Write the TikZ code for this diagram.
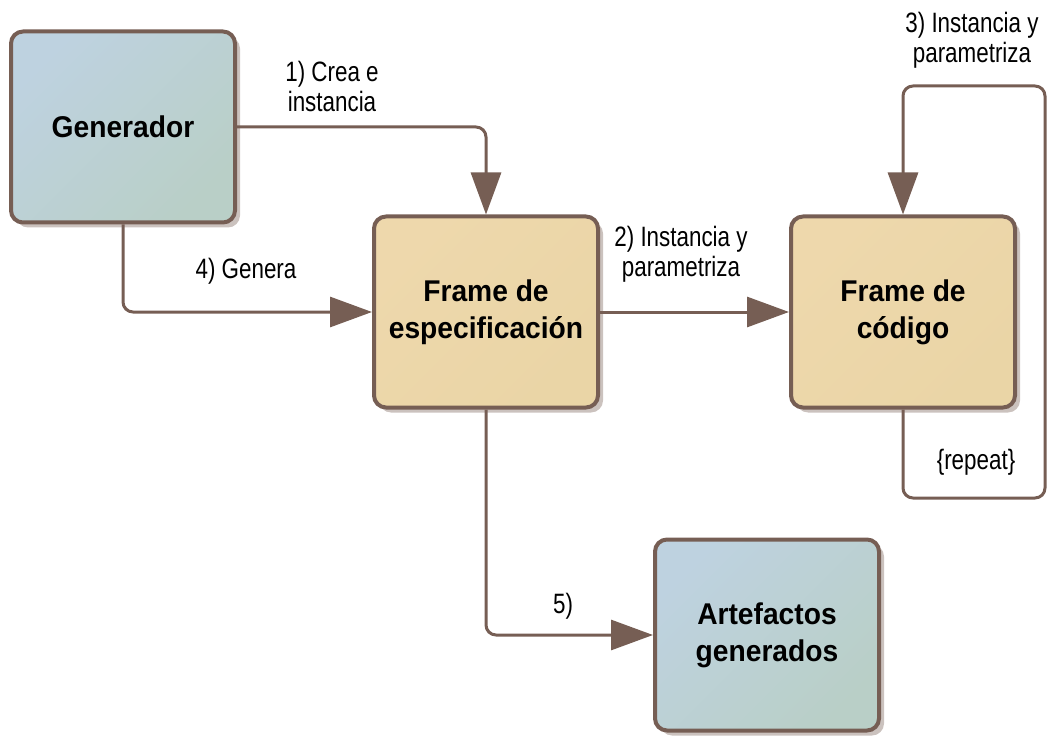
\documentclass[tikz,border=0pt]{standalone}
\usepackage{fontspec}
\setmainfont{Liberation Sans}
\newfontfamily\lblfont[FakeStretch=0.8]{Liberation Sans}
\newfontfamily\boxfont[FakeStretch=0.94]{Liberation Sans Bold}
\usetikzlibrary{arrows.meta,shadows}
\definecolor{brn}{HTML}{765E54}
\definecolor{blueTL}{HTML}{BED2E0}
\definecolor{blueBR}{HTML}{B9CFC7}
\definecolor{yelTL}{HTML}{EED8AC}
\definecolor{yelBR}{HTML}{EAD5A6}
\definecolor{shad}{HTML}{CBC2BE}
\tikzset{
  boxbase/.style={draw=brn, line width=4pt, rounded corners=12pt,
    minimum width=224pt, minimum height=191pt, align=center,
    font=\boxfont\fontsize{30}{37}\selectfont,
    drop shadow={shadow xshift=5pt, shadow yshift=-5pt, fill=shad, opacity=1}},
  bluebox/.style={boxbase, top color=blueTL, bottom color=blueBR, shading angle=45},
  yelbox/.style={boxbase, top color=yelTL, bottom color=yelBR, shading angle=45},
  conn/.style={draw=brn, line width=3pt, rounded corners=10pt},
  arr/.style={conn, -{Triangle[length=42pt,width=30pt]}},
  lbl/.style={align=center, inner sep=0pt, font=\lblfont\fontsize{28}{30}\selectfont}
}
\begin{document}
\begin{tikzpicture}[x=1pt,y=-1pt]
\useasboundingbox (0,0) rectangle (1047,738);
\node[bluebox] (gen) at (123,127) {Generador};
\node[yelbox] (spec) at (486,312) {Frame de\\especificación};
\node[yelbox] (code) at (903,312) {Frame de\\código};
\node[bluebox] (art) at (767,635) {Artefactos\\generados};
\coordinate (loopbr) at (1045,498);
\coordinate (looptr) at (1045,86);
\draw[arr] (gen.east) -| (spec.north);
\draw[arr] (gen.south) |- (spec.west);
\draw[arr] (spec.east) -- (code.west);
\draw[arr] (code.south) |- (loopbr) -- (looptr) -| (code.north);
\draw[arr] (spec.south) |- (art.west);
\node[lbl] (l1) at (332,86) {1) Crea e\\instancia};
\node[lbl] (l4) at (246,271) {4) Genera};
\node[lbl] (l2) at (681,254) {2) Instancia y\\parametriza};
\node[lbl] (l3) at (972,40) {3) Instancia y\\parametriza};
\node[lbl] (lr) at (976,462) {\{repeat\}};
\node[lbl] (l5) at (563,606) {5)};
\end{tikzpicture}
\end{document}
